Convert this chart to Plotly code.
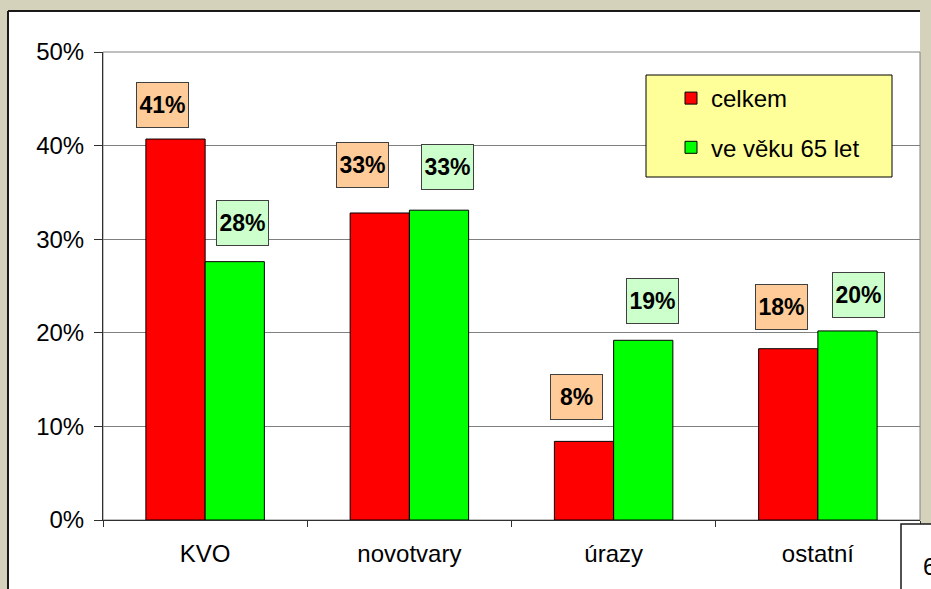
import plotly.graph_objects as go

categories = ["KVO", "novotvary", "úrazy", "ostatní"]
celkem = [0.407, 0.328, 0.084, 0.183]
vek65 = [0.276, 0.331, 0.192, 0.202]
series_names = ["celkem", "ve věku 65 let"]

# label placement (px offsets from category centre / bar top)
DX_RED = [-43, -47, -37, -36]
DY_RED = [34, 48, 44, 42]
DX_GRN = [37, 38, 39, 41]
DY_GRN = [39, 43, 39, 36]

W, H = 931, 589
ML, MR, MT, MB = 103, 11, 52, 69
PW, PH = W - ML - MR, H - MT - MB
FONT = "Liberation Sans, Arial, sans-serif"


def px(x):
    return (x - ML) / PW


def py(y):
    return (H - MB - y) / PH


fig = go.Figure()
fig.add_trace(go.Bar(x=categories, y=celkem, name=series_names[0], legendgroup="a",
                     marker=dict(color="#ff0000", line=dict(color="#000000", width=1))))
fig.add_trace(go.Bar(x=categories, y=vek65, name=series_names[1], legendgroup="b",
                     marker=dict(color="#00ff00", line=dict(color="#000000", width=1))))

shapes = [
    # white slide panel
    dict(type="rect", xref="paper", yref="paper", x0=px(8), x1=px(920), y0=py(600), y1=py(11),
         fillcolor="white", line=dict(width=0), layer="below"),
    dict(type="line", xref="paper", yref="paper", x0=px(8), x1=px(8), y0=py(600), y1=py(11),
         line=dict(color="#1a1a1a", width=2)),
    dict(type="line", xref="paper", yref="paper", x0=px(8), x1=px(920), y0=py(11), y1=py(11),
         line=dict(color="#1a1a1a", width=2)),
    # plot frame
    dict(type="rect", xref="paper", yref="paper", x0=0, x1=1, y0=0, y1=1,
         line=dict(color="#808080", width=1), layer="below"),
    # legend box
    dict(type="rect", xref="paper", yref="paper", x0=px(646), x1=px(892), y0=py(177), y1=py(75),
         fillcolor="#ffff99", line=dict(color="#000000", width=1), layer="above"),
    # page number box
    dict(type="rect", xref="paper", yref="paper", x0=px(901), x1=px(960), y0=py(620), y1=py(524),
         fillcolor="white", line=dict(color="#1a1a1a", width=1.5)),
]

annotations = []
for i, c in enumerate(categories):
    annotations.append(dict(x=c, y=celkem[i], xref="x", yref="y", text=f"<b>{round(celkem[i]*100)}%</b>",
                            showarrow=False, xshift=DX_RED[i], yshift=DY_RED[i],
                            bgcolor="#ffcc99", bordercolor="#404040", borderwidth=1,
                            width=47, height=40, borderpad=2,
                            font=dict(family=FONT, size=23, color="black")))
    annotations.append(dict(x=c, y=vek65[i], xref="x", yref="y", text=f"<b>{round(vek65[i]*100)}%</b>",
                            showarrow=False, xshift=DX_GRN[i], yshift=DY_GRN[i],
                            bgcolor="#ccffcc", bordercolor="#404040", borderwidth=1,
                            width=47, height=40, borderpad=2,
                            font=dict(family=FONT, size=23, color="black")))
annotations.append(dict(x=px(921), y=py(566), xref="paper", yref="paper", text="6", showarrow=False,
                        xanchor="left", yanchor="middle", font=dict(family=FONT, size=24, color="black")))

fig.update_layout(
    width=W, height=H,
    margin=dict(l=ML, r=MR, t=MT, b=MB, pad=0),
    paper_bgcolor="#d5d2bc", plot_bgcolor="white",
    barmode="group", bargap=0.42, bargroupgap=0,
    font=dict(family=FONT, size=24, color="black"),
    showlegend=True,
    legend=dict(x=px(671), y=py(76), xanchor="left", yanchor="top",
                bgcolor="rgba(0,0,0,0)", borderwidth=0,
                font=dict(family=FONT, size=24, color="black"),
                tracegroupgap=15, traceorder="grouped"),
    shapes=shapes, annotations=annotations,
)
fig.update_xaxes(showline=True, linecolor="#303030", linewidth=1, ticks="outside", tickson="boundaries",
                 ticklen=6, tickcolor="#303030", showgrid=False, ticklabelstandoff=12,
                 tickfont=dict(family=FONT, size=24, color="black"))
fig.update_yaxes(range=[0, 0.5], dtick=0.1, tickformat=".0%", showline=True, linecolor="#303030",
                 linewidth=1, ticks="outside", ticklen=8, tickcolor="#303030", ticklabelstandoff=5,
                 showgrid=True, gridcolor="#808080", gridwidth=1, zeroline=False,
                 tickfont=dict(family=FONT, size=24, color="black"))

fig.write_html("out.html", config={"displayModeBar": False},
               post_script="document.body.style.margin='0';")
